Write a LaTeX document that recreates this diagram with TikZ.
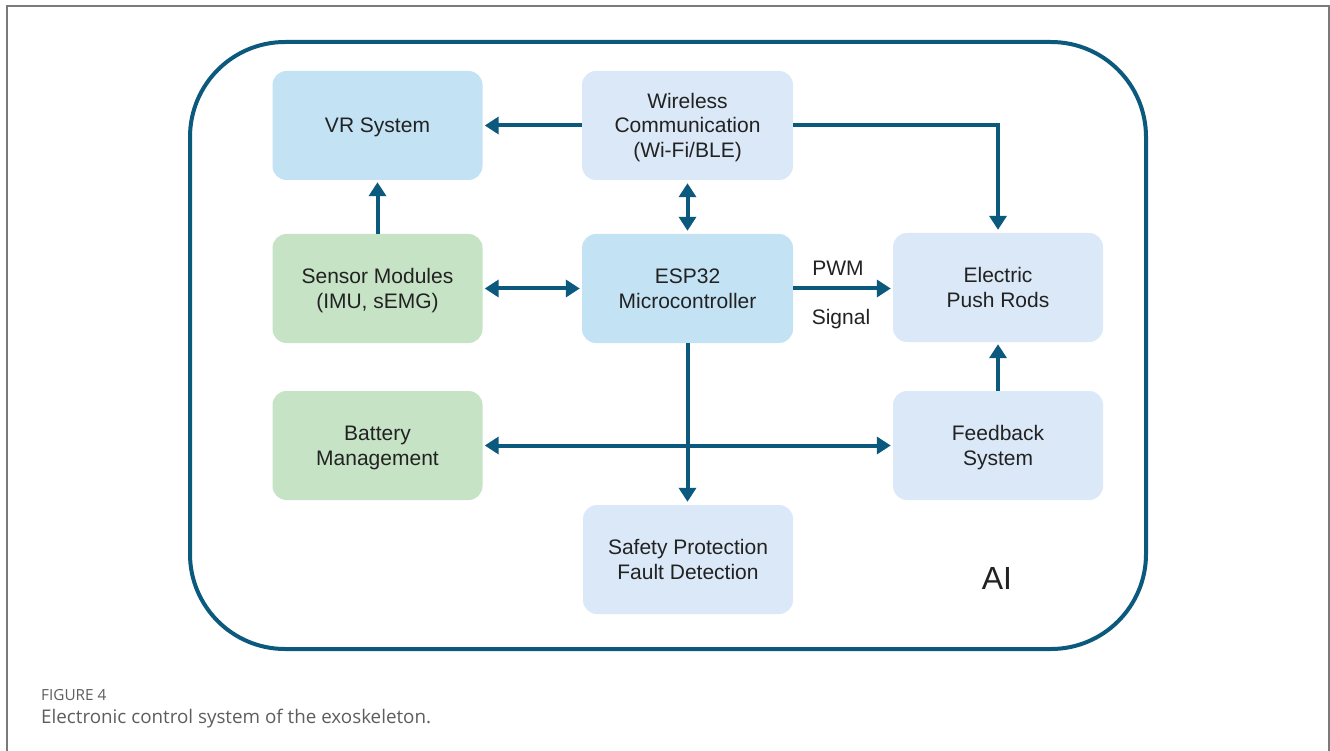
\documentclass[tikz,border=0pt]{standalone}
\usepackage{fontspec}
\setmainfont{Liberation Sans}
\newfontfamily\capfont{Open Sans}
\usetikzlibrary{arrows.meta}
\definecolor{teal}{HTML}{0B5A7D}
\definecolor{bluebox}{HTML}{C3E3F5}
\definecolor{paleblue}{HTML}{DAE8F7}
\definecolor{greenbox}{HTML}{C6E3C6}
\definecolor{framegray}{HTML}{7A7A7A}
\definecolor{capgray}{HTML}{5E5E5E}
\definecolor{txt}{HTML}{222222}
% text block: height = cap height, depth = distance to last baseline
\newcommand\blocktext[2]{\raisebox{0pt}[15pt][#1pt]{\begin{tabular}[t]{@{}c@{}}#2\end{tabular}}}
\tikzset{
  blk/.style={draw=none, rounded corners=14pt, minimum width=210pt, minimum height=109pt,
    align=center, inner sep=0pt, text=txt, font=\fontsize{21}{24.5}\selectfont},
  conn/.style={draw=teal, line width=4pt, -{Triangle[length=14pt,width=17pt]}},
  bconn/.style={draw=teal, line width=4pt, {Triangle[length=14pt,width=17pt]}-{Triangle[length=14pt,width=17pt]}},
  lbl/.style={text=txt, font=\fontsize{21}{24.5}\selectfont, inner sep=0pt}
}
\begin{document}
\begin{tikzpicture}[x=1pt,y=-1pt]
\useasboundingbox (0,0) rectangle (1330,751);
\fill[white] (0,0) rectangle (1330,751);
% outer page frame (open bottom)
\draw[framegray, line width=1.6pt] (7,751) -- (7,6) -- (1329,6) -- (1329,751);
% main rounded frame
\draw[teal, line width=4pt, rounded corners=95pt] (190,42) rectangle (1146,649);
% blocks
\node[blk, fill=bluebox] (vr) at (377.5,125.5) {\blocktext{0}{VR System}};
\node[blk, fill=paleblue, minimum width=211pt] (wl) at (687.5,125.5) {\blocktext{49}{Wireless\\Communication\\(Wi-Fi/BLE)}};
\node[blk, fill=greenbox] (sm) at (377.5,288.5) {\blocktext{24.5}{Sensor Modules\\(IMU, sEMG)}};
\node[blk, fill=bluebox, minimum width=211pt] (esp) at (687.5,288.5) {\blocktext{24.5}{ESP32\\Microcontroller}};
\node[blk, fill=paleblue] (epr) at (998,287.5) {\blocktext{24.5}{Electric\\Push Rods}};
\node[blk, fill=greenbox] (bm) at (377.5,445.5) {\blocktext{24.5}{Battery\\Management}};
\node[blk, fill=paleblue] (fb) at (998,445.5) {\blocktext{24.5}{Feedback\\System}};
\node[blk, fill=paleblue] (sp) at (688,559.5) {\blocktext{24.5}{Safety Protection\\Fault Detection}};
% labels
\node[lbl] (pwm) at (838,268) {PWM};
\node[lbl] (sig) at (841,319) {Signal};
\node[text=txt, font=\fontsize{32}{36}\selectfont, inner sep=0pt] (ai) at (997,578) {AI};
% connectors
\draw[conn, shorten >=2pt] (wl.west) -- (vr.east);
\draw[conn, shorten >=3pt] (wl.east) -| (epr.north);
\draw[bconn, shorten <=3pt, shorten >=3pt] (wl.south) -- (esp.north);
\draw[conn, shorten >=2pt] (sm.north) -- (vr.south);
\draw[bconn, shorten <=2pt, shorten >=2pt] (sm.east) -- (esp.west);
\draw[conn, shorten >=2pt] (esp.east) -- (esp.east -| epr.west);
\draw[conn, shorten >=2pt] (fb.north) -- (epr.south);
\draw[bconn, shorten <=2pt, shorten >=2pt] (bm.east) -- (fb.west);
\draw[conn, shorten >=3pt] (esp.south) -- (esp.south |- sp.north);
% caption
\node[anchor=base west, inner sep=0pt, text=capgray, font=\capfont\fontsize{15.3}{17}\selectfont] (fig) at (41,700) {FIGURE 4};
\node[anchor=base west, inner sep=0pt, text=capgray, font=\capfont\fontsize{18.8}{22}\selectfont] (cap) at (41,723) {Electronic control system of the exoskeleton.};
\end{tikzpicture}
\end{document}
